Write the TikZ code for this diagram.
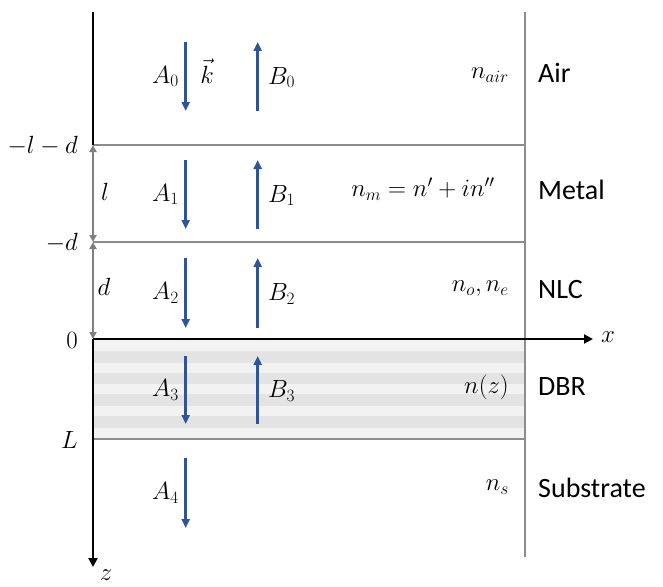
\documentclass[tikz,border=0pt]{standalone}
\usepackage{fontspec}
\setsansfont{Carlito}
\usetikzlibrary{arrows.meta}
\definecolor{arrowblue}{HTML}{2F5597}
\definecolor{layergray}{HTML}{8C8C8C}
\definecolor{dimgray}{HTML}{7F7F7F}
\definecolor{stripelight}{HTML}{F2F2F2}
\definecolor{stripedark}{HTML}{E3E3E3}
\begin{document}
\begin{tikzpicture}[x=1pt,y=-1pt,
  layerline/.style={draw=layergray,line width=1.5pt},
  axisline/.style={draw=black,line width=2.6pt},
  axisarrow/.style={axisline,-{Triangle[width=9pt,length=9pt]}},
  dimarrow/.style={draw=dimgray,line width=2.6pt,{Triangle[width=7pt,length=7pt]}-{Triangle[width=7pt,length=7pt]}},
  wave/.style={draw=arrowblue,line width=2.6pt,-{Triangle[width=8pt,length=9pt]}},
  mathlbl/.style={inner sep=1pt,font=\fontsize{25}{29}\selectfont},
  layername/.style={anchor=west,inner sep=0pt,font=\sffamily\fontsize{28}{32}\selectfont}
]
\useasboundingbox (0,0) rectangle (663,586);
\fill[white] (0,0) rectangle (663,586);
% DBR stripes
\fill[stripelight] (93,339) rectangle (525,439);
\foreach \y in {351,372.7,394.3,416}{\fill[stripedark] (93,\y) rectangle (525,\y+11.5);}
% layer boundaries
\draw[layerline] (525,12) -- (525,557);
\draw[layerline] (93,145) -- (525,145);
\draw[layerline] (93,242) -- (525,242);
\draw[layerline] (93,439) -- (525,439);
% axes
\coordinate (ztop) at (93,12);
\coordinate (zl) at (93,145);
\coordinate (zd) at (93,242);
\coordinate (z0) at (93,339);
\coordinate (zend) at (93,567);
\coordinate (xend) at (593,339);
\draw[axisline] (ztop) -- (zl);
\draw[axisarrow] (z0) -- (zend);
\draw[axisarrow] (z0) -- (xend);
\draw[dimarrow] (zl) -- (zd);
\draw[dimarrow] (zd) -- (z0);
\node[mathlbl] (xlbl) at (608,337) {$x$};
\node[mathlbl,anchor=north] (zlbl) at (106,569) {$z$};
% left labels
\node[mathlbl,anchor=east] (lbllmd) at (79,146) {$-l-d$};
\node[mathlbl,anchor=east] (lblmd) at (79,243) {$-d$};
\node[mathlbl,anchor=east] (lbl0) at (79,340) {$0$};
\node[mathlbl,anchor=east] (lblL) at (79,440) {$L$};
\node[mathlbl] (lbll) at (105,192) {$l$};
\node[mathlbl] (lbld) at (104,287) {$d$};
% waves
\foreach \i/\t/\b in {0/42/111,1/160/229,2/258/328,3/356/424,4/458/528}{
  \coordinate (a\i s) at (185.7,\t);
  \coordinate (a\i e) at (185.7,\b);
  \draw[wave] (a\i s) -- (a\i e);
  \node[mathlbl,anchor=east] (A\i) at (180,{(\t+\b)/2}) {$A_{\i}$};
}
\foreach \i/\t/\b in {0/42/111,1/160/229,2/258/328,3/356/424}{
  \coordinate (b\i s) at (257.7,\b);
  \coordinate (b\i e) at (257.7,\t);
  \draw[wave] (b\i s) -- (b\i e);
  \node[mathlbl,anchor=west] (B\i) at (267,{(\t+\b)/2+1}) {$B_{\i}$};
}
\node[mathlbl] (kvec) at (207,71) {$\vec{k}$};
% refractive indices
\node[mathlbl,anchor=east] (nair) at (510,75) {$n_{air}$};
\node[mathlbl] (nm) at (423,189) {$n_m = n' + in''$};
\node[mathlbl,anchor=east] (none) at (510,289) {$n_o, n_e$};
\node[mathlbl,anchor=east] (nz) at (510,387) {$n(z)$};
\node[mathlbl,anchor=east] (ns) at (510,487) {$n_s$};
% layer names
\node[layername] (air) at (538,73) {Air};
\node[layername] (metal) at (538,190) {Metal};
\node[layername] (nlc) at (538,290) {NLC};
\node[layername] (dbr) at (538,387) {DBR};
\node[layername] (sub) at (538,488) {Substrate};
\end{tikzpicture}
\end{document}
